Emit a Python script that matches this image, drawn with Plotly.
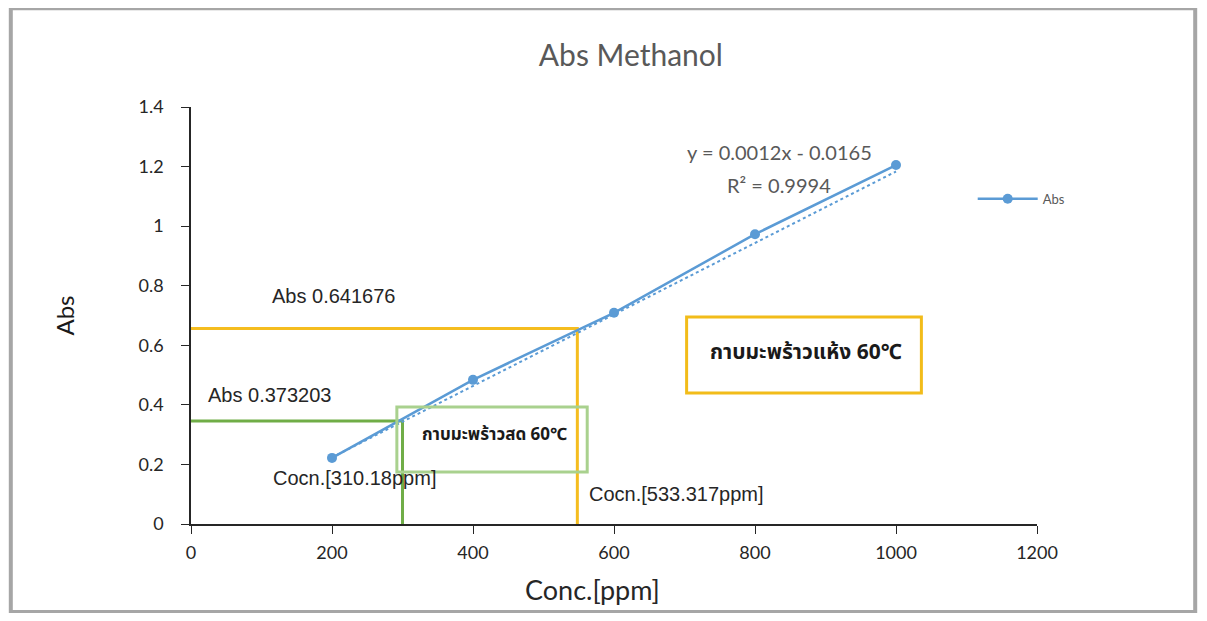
import plotly.graph_objects as go

# ---- data ----
conc = [200, 400, 600, 800, 1000]
absorb = [0.222, 0.484, 0.709, 0.973, 1.205]
slope = 0.0012
intercept = -0.0165
trend_x = [200, 1000]

# guide lines as drawn
dry_abs_line = 0.656
dry_conc_line = 548
fresh_abs_line = 0.346
fresh_conc_line = 300

x_ticks = [0, 200, 400, 600, 800, 1000, 1200]
y_ticks = [0, 0.2, 0.4, 0.6, 0.8, 1.0, 1.2, 1.4]

BLUE = "#5b9bd5"
YELLOW = "#f5bd1f"
GREEN = "#70ad47"
LGREEN = "#a9d18e"

fig = go.Figure()

# guide lines
fig.add_trace(go.Scatter(x=[0, dry_conc_line, dry_conc_line], y=[dry_abs_line, dry_abs_line, 0],
                         mode="lines", line=dict(color=YELLOW, width=3), showlegend=False, hoverinfo="skip"))
fig.add_trace(go.Scatter(x=[0, fresh_conc_line, fresh_conc_line], y=[fresh_abs_line, fresh_abs_line, -0.012],
                         mode="lines", line=dict(color=GREEN, width=3), showlegend=False, hoverinfo="skip",
                         cliponaxis=False))

# trendline
trend_y = [slope * v + intercept for v in trend_x]
fig.add_trace(go.Scatter(x=trend_x, y=trend_y, mode="lines",
                         line=dict(color=BLUE, width=2, dash="dot"), showlegend=False, hoverinfo="skip"))

# series
fig.add_trace(go.Scatter(x=conc, y=absorb, mode="lines+markers", name="Abs",
                         line=dict(color=BLUE, width=2.5), marker=dict(color=BLUE, size=10)))

# boxes
fig.add_shape(type="rect", xref="x", yref="y", x0=292, x1=562, y0=0.175, y1=0.393,
              line=dict(color=LGREEN, width=3))
fig.add_shape(type="rect", xref="x", yref="y", x0=703, x1=1036, y0=0.440, y1=0.695,
              line=dict(color="#f2bc1a", width=3))

# outer frame
fig.add_shape(type="rect", xref="paper", yref="paper", x0=-0.213, x1=1.187, y0=-0.211, y1=1.237,
              line=dict(color="#a6a6a6", width=4), layer="below")

thai_font = "Noto Sans Thai, Noto Sans, sans-serif"
arial = "Liberation Sans, Arial"
ann = [
    dict(x=112, y=0.765, text="Abs 0.641676", xanchor="left", font=dict(family=arial, size=20, color="#262626")),
    dict(x=21, y=0.433, text="Abs 0.373203", xanchor="left", font=dict(family=arial, size=20, color="#262626")),
    dict(x=113, y=0.154, text="Cocn.[310.18ppm]", xanchor="left", font=dict(family=arial, size=20, color="#262626")),
    dict(x=562, y=0.100, text="Cocn.[533.317ppm]", xanchor="left", font=dict(family=arial, size=20, color="#262626")),
    dict(x=701, y=1.249, text="y = 0.0012x - 0.0165", xanchor="left", font=dict(family="Lato, Open Sans", size=20, color="#595959")),
    dict(x=757, y=1.138, text="R² = 0.9994", xanchor="left", font=dict(family="Lato, Open Sans", size=20, color="#595959")),
    dict(x=430, y=0.299, text="<b>กาบมะพร้าวสด 60℃</b>", xanchor="center", font=dict(family=thai_font, size=17, color="#1a1a1a")),
    dict(x=872, y=0.577, text="<b>กาบมะพร้าวแห้ง 60℃</b>", xanchor="center", font=dict(family=thai_font, size=21, color="#1a1a1a")),
]
for a in ann:
    fig.add_annotation(xref="x", yref="y", showarrow=False, yanchor="middle", **a)

# x-axis title (offset left of centre as in the reference)
fig.add_annotation(xref="paper", yref="paper", x=0.475, y=-0.158, xanchor="center", yanchor="middle",
                   showarrow=False, text="Conc.[ppm]",
                   font=dict(family="Lato, Open Sans", size=27, color="#262626"))

fig.update_layout(
    width=1191, height=605,
    margin=dict(l=183, r=162, t=99, b=89),
    paper_bgcolor="white", plot_bgcolor="white",
    title=dict(text="Abs Methanol", x=0.52, xanchor="center", xref="paper", y=0.921, yref="container",
               yanchor="middle", font=dict(family="Lato, Open Sans", size=30, color="#595959")),
    showlegend=True,
    legend=dict(x=0.924, y=0.78, xanchor="left", yanchor="middle", bgcolor="rgba(0,0,0,0)",
                font=dict(family="Lato, Open Sans", size=13, color="#595959"), itemwidth=60),
    xaxis=dict(range=[0, 1200], tickvals=x_ticks, showgrid=False, zeroline=False,
               showline=True, linecolor="#262626", linewidth=1.5, ticks="outside", ticklen=8,
               tickcolor="#262626", ticklabelstandoff=4,
               tickfont=dict(family="Lato, Open Sans", size=18, color="#262626")),
    yaxis=dict(range=[0, 1.4], tickvals=y_ticks, showgrid=False, zeroline=False,
               showline=True, linecolor="#262626", linewidth=1.5, ticks="outside", ticklen=8,
               tickcolor="#262626", ticklabelstandoff=14,
               tickfont=dict(family="Lato, Open Sans", size=18, color="#262626"),
               title=dict(text="Abs", font=dict(family="Lato, Open Sans", size=24, color="#1a1a1a"), standoff=57)),
)

fig.write_html("out.html")
